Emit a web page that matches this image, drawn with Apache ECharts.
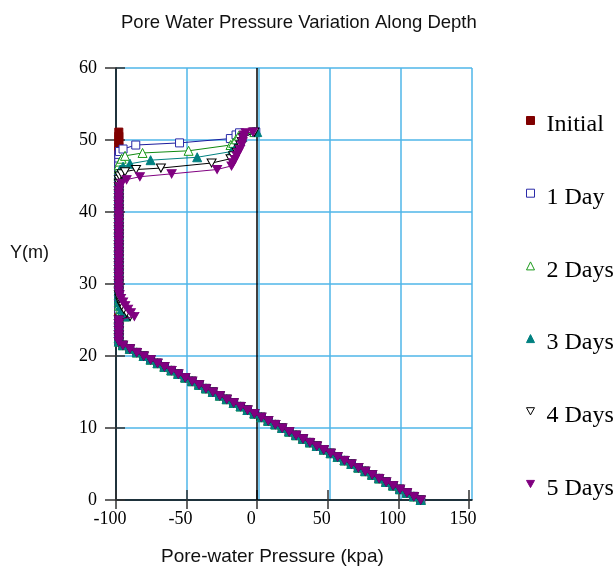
<!DOCTYPE html>
<html>
<head>
<meta charset="utf-8">
<script src="https://cdn.jsdelivr.net/npm/echarts@6/dist/echarts.min.js"></script>
<style>
html,body{margin:0;padding:0;background:#fff;}
#chart{width:614px;height:567px;}
</style>
</head>
<body>
<div id="chart"></div>
<script>
// ---------- DATA ----------
const seriesNames = ['Initial', '1 Day', '2 Days', '3 Days', '4 Days', '5 Days'];
const xTickValues = [-100, -50, 0, 50, 100, 150];
const yTickValues = [0, 10, 20, 30, 40, 50, 60];

// lower (saturated) zone – shared by all series
const depthLow = [0,0.5,1,1.5,2,2.5,3,3.5,4,4.5,5,5.5,6,6.5,7,7.5,8,8.5,9,9.5,10,10.5,11,11.5,12,12.5,13,13.5,14,14.5,15,15.5,16,16.5,17,17.5,18,18.5,19,19.5,20,20.5,21,21.5];
const pressureLow = [115.8,110.9,106.0,101.1,96.2,91.3,86.3,81.4,76.5,71.6,66.7,61.8,56.9,52.0,47.1,42.2,37.3,32.4,27.5,22.6,17.7,12.8,7.8,2.9,-2.0,-6.9,-11.8,-16.7,-21.6,-26.5,-31.4,-36.3,-41.2,-46.1,-51.0,-55.9,-60.8,-65.7,-70.6,-75.5,-80.4,-85.3,-90.2,-95.1];

// middle zone depths – shared
const depthMid = [22,22.5,23,23.5,24,24.5,25,25.5,26,26.5,27,27.5,28,28.5,29,29.5,30,30.5,31,31.5,32,32.5,33,33.5,34,34.5,35,35.5,36,36.5,37,37.5,38,38.5,39,39.5,40,40.5,41,41.5,42,42.5,43];

const initialMid = [-98,-98,-98,-98,-98,-98,-98,-98,-98,-98,
  -98,-98,-98,-98,-98,-98,-98,-98,-98,-98,
  -98,-98,-98,-98,-98,-98,-98,-98,-98,-98,
  -98,-98,-98,-98,-98,-98,-98,-98,-98,-98,
  -98,-98,-98];
const day1Mid = [-98,-98,-98,-98,-98,-98,-98,-96,-97,-98,
  -98,-98,-98,-98,-98,-98,-98,-98,-98,-98,
  -98,-98,-98,-98,-98,-98,-98,-98,-98,-98,
  -98,-98,-98,-98,-98,-98,-98,-98,-98,-98,
  -98,-98,-98];
const day2Mid = [-98,-98,-98,-98,-98,-98,-98,-94,-96,-97,
  -98,-98,-98,-98,-98,-98,-98,-98,-98,-98,
  -98,-98,-98,-98,-98,-98,-98,-98,-98,-98,
  -98,-98,-98,-98,-98,-98,-98,-98,-98,-98,
  -98,-98,-98];
const day3Mid = [-98,-98,-98,-98,-98,-98,-98,-93,-95,-96,
  -97,-97.5,-98,-98,-98,-98,-98,-98,-98,-98,
  -98,-98,-98,-98,-98,-98,-98,-98,-98,-98,
  -98,-98,-98,-98,-98,-98,-98,-98,-98,-98,
  -98,-98,-98];
const day4Mid = [-98,-98,-98,-98,-98,-98,-98,-90,-92.5,-94.5,
  -96,-97,-97.5,-98,-98,-98,-98,-98,-98,-98,
  -98,-98,-98,-98,-98,-98,-98,-98,-98,-98,
  -98,-98,-98,-98,-98,-98,-98,-98,-98,-98,
  -98,-98,-98];
const day5Mid = [-98,-98,-98,-98,-98,-98,-98,-87,-89.5,-91.5,
  -93.5,-95,-96.5,-97.5,-98,-98,-98,-98,-98,-98,
  -98,-98,-98,-98,-98,-98,-98,-98,-98,-98,
  -98,-98,-98,-98,-98,-98,-98,-98,-98,-98,
  -98,-98,-98];

// upper (wetting front) zone – per series
const initialTopDepth = [43.5,44,44.5,45,45.5,46,46.5,47,47.5,48,48.5,49,49.5,50,50.5,51.1];
const initialTopP = [-98,-98,-98,-98,-98,-98,-98,-98,-98,-98,-98,-98,-98,-98,-98,-98];
const day1TopDepth = [43.5,44,44.5,45,45.5,46,46.5,47,47.5,48,48.4,48.75,49.3,49.6,50.2,50.7,51.0,51.1];
const day1TopP = [-98,-98,-98,-98,-98,-98,-98,-98,-98,-98,-97.5,-95,-86,-55,-19,-15,-12.5,-1];
const day2TopDepth = [43.5,44,44.5,45,45.5,46,46.5,47,47.4,47.8,48.2,48.5,49.3,49.6,50.1,50.6,51.1];
const day2TopP = [-98,-98,-98,-98,-98,-98,-98,-97.2,-96,-93.6,-81.2,-48.6,-18.9,-17,-15,-13,-2];
const day3TopDepth = [43.5,44,44.5,45,45.5,45.9,46.3,46.7,47.2,47.6,48.4,48.9,49.4,49.9,50.4,51.1];
const day3TopP = [-98,-98,-98,-98,-98,-97,-95,-90.1,-75.5,-42.5,-18.2,-15.5,-13.5,-12,-10.5,0];
const day4TopDepth = [43.5,44,44.5,45,45.3,45.6,45.9,46.1,46.8,47.4,47.8,48.3,48.8,49.3,49.8,50.3,51.1];
const day4TopP = [-98,-98,-98,-97.5,-96,-93.6,-85.8,-68.2,-32.3,-18.9,-17,-14.5,-13,-12,-11,-10,-2];
const day5TopDepth = [43.5,44,44.5,44.9,45.3,45.9,46.4,46.85,47.3,47.8,48.25,48.7,49.3,49.75,50.2,50.7,51.0,51.1];
const day5TopP = [-97.5,-96,-92.5,-83.1,-60.6,-28.4,-18.2,-17,-15.8,-14.6,-13.4,-12.2,-11,-10.3,-9.9,-9.4,-8.2,-3];

// ---------- BUILD ----------
function build(midP, topDepth, topP) {
  const out = [];
  depthLow.forEach((y, i) => out.push([pressureLow[i], y]));
  depthMid.forEach((y, i) => out.push([midP[i], y]));
  topDepth.forEach((y, i) => out.push([topP[i], y]));
  return out;
}

const INV_TRI = 'path://M0,0L10,0L5,9Z';
const styles = [
  { symbol: 'rect', size: 8, line: '#800000', fill: '#800000', border: '#800000' },
  { symbol: 'rect', size: 8, line: '#1c1c9c', fill: '#ffffff', border: '#2a2aa8' },
  { symbol: 'triangle', size: 9, line: '#108a10', fill: '#ffffff', border: '#1a9a1a' },
  { symbol: 'triangle', size: 9, line: '#008080', fill: '#008080', border: '#008080' },
  { symbol: INV_TRI, size: [9, 8], line: '#000000', fill: '#ffffff', border: '#000000' },
  { symbol: INV_TRI, size: [9, 8], line: '#800080', fill: '#800080', border: '#800080' }
];
const legendIcons = ['rect', 'rect', 'triangle', 'triangle', INV_TRI, INV_TRI];

const datasets = [
  build(initialMid, initialTopDepth, initialTopP),
  build(day1Mid, day1TopDepth, day1TopP),
  build(day2Mid, day2TopDepth, day2TopP),
  build(day3Mid, day3TopDepth, day3TopP),
  build(day4Mid, day4TopDepth, day4TopP),
  build(day5Mid, day5TopDepth, day5TopP)
];

const series = seriesNames.map((name, i) => {
  const s = styles[i];
  const obj = {
    name: name,
    type: 'line',
    xAxisIndex: 0,
    yAxisIndex: 0,
    data: datasets[i],
    symbol: s.symbol,
    symbolSize: s.size,
    showSymbol: true,
    showAllSymbol: true,
    silent: true,
    animation: false,
    z: 3 + i,
    lineStyle: { color: s.line, width: 1 },
    itemStyle: { color: s.fill, borderColor: s.border, borderWidth: 1 },
    emphasis: { disabled: true }
  };
  if (i === 0) {
    obj.markLine = {
      silent: true,
      symbol: 'none',
      animation: false,
      label: { show: false },
      lineStyle: { color: '#000', width: 1.5, type: 'solid' },
      data: [{ xAxis: 0 }]
    };
  }
  return obj;
});

const gridBlue = '#4fb6e8';
const tickStyle = { color: '#333', width: 1.5 };

const chart = echarts.init(document.getElementById('chart'), null, { renderer: 'canvas' });
chart.setOption({
  backgroundColor: '#ffffff',
  animation: false,
  title: {
    text: 'Pore Water Pressure Variation Along Depth',
    left: 116,
    top: 8,
    textStyle: { fontFamily: 'Liberation Sans', fontSize: 18.5, fontWeight: 'normal', color: '#111' }
  },
  grid: { left: 116, top: 68, width: 356, height: 432, containLabel: false },
  xAxis: [
    {
      type: 'value', min: -100, max: 152.1, position: 'bottom',
      axisLine: { show: true, onZero: false, lineStyle: { color: '#000', width: 1.5 } },
      axisTick: { show: true, length: 9, customValues: xTickValues, lineStyle: tickStyle },
      axisLabel: { show: true, customValues: xTickValues, fontFamily: 'Liberation Serif', fontSize: 18, color: '#000', margin: 10, padding: [0, 12, 0, 0] },
      splitLine: { show: false }
    },
    {
      type: 'value', min: -100, max: 152.1, position: 'bottom',
      axisLine: { show: false, onZero: false },
      axisTick: { show: true, inside: true, length: 10, customValues: xTickValues, lineStyle: tickStyle },
      axisLabel: { show: false },
      splitLine: { show: false }
    },
    {
      type: 'value', min: -100, max: 150, interval: 50, position: 'bottom',
      axisLine: { show: false, onZero: false },
      axisTick: { show: false },
      axisLabel: { show: false },
      splitLine: { show: true, lineStyle: { color: gridBlue, width: 1.5 } }
    }
  ],
  yAxis: [
    {
      type: 'value', min: 0, max: 60, interval: 10, position: 'left',
      axisLine: { show: true, onZero: false, lineStyle: { color: '#000', width: 1.5 } },
      axisTick: { show: true, length: 11, lineStyle: tickStyle },
      axisLabel: { show: true, fontFamily: 'Liberation Serif', fontSize: 18, color: '#000', margin: 19 },
      splitLine: { show: true, lineStyle: { color: gridBlue, width: 1.5 } }
    },
    {
      type: 'value', min: 0, max: 60, interval: 10, position: 'left', offset: 0,
      axisLine: { show: false, onZero: false },
      axisTick: { show: true, inside: true, length: 9, lineStyle: tickStyle },
      axisLabel: { show: false },
      splitLine: { show: false }
    }
  ],
  legend: {
    orient: 'vertical',
    left: 526,
    top: 104,
    padding: 0,
    itemWidth: 8,
    itemHeight: 8,
    itemGap: 39.7,
    selectedMode: false,
    formatter: '{t|{name}}',
    textStyle: {
      fontFamily: 'Liberation Serif', fontSize: 24, color: '#000',
      rich: { t: { fontFamily: 'Liberation Serif', fontSize: 24, lineHeight: 24, color: '#000', padding: [9, 0, 0, 7] } }
    },
    data: seriesNames.map((n, i) => ({
      name: n,
      icon: legendIcons[i],
      itemStyle: { color: styles[i].fill, borderColor: styles[i].border, borderWidth: 1 }
    }))
  },
  graphic: [
    { type: 'text', left: 10, top: 244, silent: true,
      style: { text: 'Y(m)', font: '18px "Liberation Sans"', fill: '#111' } },
    { type: 'text', left: 161, top: 547, silent: true,
      style: { text: 'Pore-water Pressure (kpa)', font: '19px "Liberation Sans"', fill: '#111' } }
  ],
  series: series
});
</script>
</body>
</html>
